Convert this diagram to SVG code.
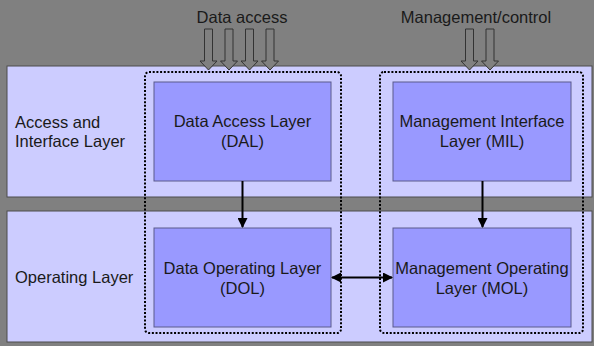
<svg xmlns="http://www.w3.org/2000/svg" width="594" height="346" viewBox="0 0 594 346">
  <style>
    text { font-family: "Liberation Sans", Arial, sans-serif; font-size: 16.5px; fill: #1a1a1a; }
    .mid { text-anchor: middle; }
    .band { fill: #ccccff; stroke: #4d4d4d; stroke-width: 1; }
    .box { fill: #9999ff; stroke: #5a5a8c; stroke-width: 1; }
    .group { fill: none; stroke: #000; stroke-width: 2; stroke-dasharray: 2 1.7; }
    .link { stroke: #000; stroke-width: 2; fill: none; }
    .hollow { fill: #808080; stroke: #333; stroke-width: 1; }
  </style>
  <defs>
    <marker id="head" viewBox="0 0 10 10" refX="9" refY="5" markerWidth="5" markerHeight="5" orient="auto-start-reverse" markerUnits="strokeWidth">
      <path d="M0,0 L10,5 L0,10 z" fill="#000"/>
    </marker>
    <path id="inArrow" d="M-4,29 H4 V61 H8.5 L0,70 L-8.5,61 H-4 Z"/>
  </defs>

  <!-- backdrop -->
  <rect x="0" y="0" width="594" height="346" fill="#808080"/>

  <!-- layer bands -->
  <g id="access-interface-layer">
    <rect class="band" x="7" y="66" width="585" height="131"/>
    <text x="15" y="128">Access and</text>
    <text x="15" y="147">Interface Layer</text>
  </g>
  <g id="operating-layer">
    <rect class="band" x="7" y="211" width="585" height="131"/>
    <text x="15" y="283">Operating Layer</text>
  </g>

  <!-- vertical groupings -->
  <g id="data-group">
    <rect class="group" x="145" y="72" width="196" height="261" rx="4"/>
  </g>
  <g id="management-group">
    <rect class="group" x="380" y="72" width="203" height="261" rx="4"/>
  </g>

  <!-- incoming requests -->
  <g id="data-access">
    <text class="mid" x="242" y="23">Data access</text>
    <use href="#inArrow" class="hollow" x="208.5"/>
    <use href="#inArrow" class="hollow" x="229"/>
    <use href="#inArrow" class="hollow" x="249.5"/>
    <use href="#inArrow" class="hollow" x="270"/>
  </g>
  <g id="management-control">
    <text class="mid" x="476" y="23">Management/control</text>
    <use href="#inArrow" class="hollow" x="469.5"/>
    <use href="#inArrow" class="hollow" x="490"/>
  </g>

  <!-- components -->
  <g id="dal">
    <rect class="box" x="154" y="82" width="177" height="99"/>
    <text class="mid" x="242.5" y="127">Data Access Layer</text>
    <text class="mid" x="242.5" y="147">(DAL)</text>
  </g>
  <g id="mil">
    <rect class="box" x="393" y="82" width="178" height="99"/>
    <text class="mid" x="482" y="127">Management Interface</text>
    <text class="mid" x="482" y="147">Layer (MIL)</text>
  </g>
  <g id="dol">
    <rect class="box" x="154" y="228" width="177" height="99"/>
    <text class="mid" x="242.5" y="274">Data Operating Layer</text>
    <text class="mid" x="242.5" y="294">(DOL)</text>
  </g>
  <g id="mol">
    <rect class="box" x="393" y="228" width="178" height="99"/>
    <text class="mid" x="482" y="274">Management Operating</text>
    <text class="mid" x="482" y="294">Layer (MOL)</text>
  </g>

  <!-- connectors -->
  <g id="connectors">
    <line class="link" x1="242.5" y1="181" x2="242.5" y2="227" marker-end="url(#head)"/>
    <line class="link" x1="482.5" y1="181" x2="482.5" y2="227" marker-end="url(#head)"/>
    <line class="link" x1="332" y1="277.5" x2="392" y2="277.5" marker-start="url(#head)" marker-end="url(#head)"/>
  </g>
</svg>
